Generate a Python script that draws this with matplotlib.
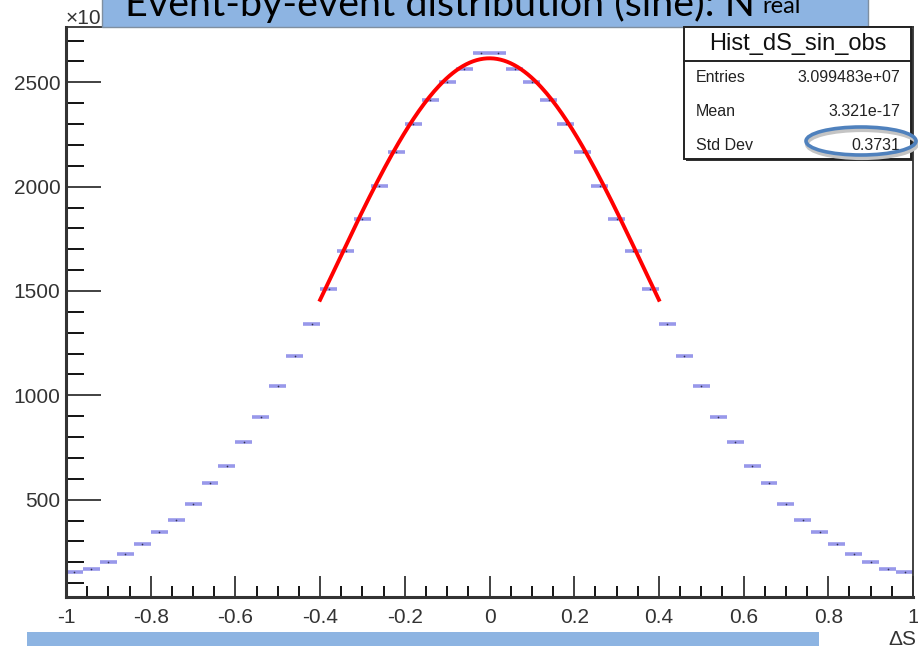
import matplotlib
matplotlib.use('Agg')
import matplotlib.pyplot as plt
import numpy as np
from matplotlib.patches import Rectangle, Ellipse
from matplotlib.ticker import MultipleLocator

plt.rcParams['axes.unicode_minus'] = False

# histogram Hist_dS_sin_obs, 50 bins on [-1, 1], contents in units of 10^3
bin_edges = np.linspace(-1.0, 1.0, 51)
counts = [154, 168, 203, 238, 288, 344, 401, 479, 579, 663,
          775, 897, 1045, 1187, 1343, 1508, 1690, 1845, 2002, 2165,
          2299, 2414, 2503, 2562, 2639, 2639, 2562, 2503, 2414, 2299,
          2165, 2002, 1845, 1690, 1508, 1343, 1187, 1045, 897, 775,
          663, 579, 479, 401, 344, 288, 238, 203, 168, 154]

# gaussian fit drawn over [-0.4, 0.4]
fit_const = 2615
fit_mean = 0.0
fit_sigma = 0.37
fit_range = (-0.4, 0.4)

stat_names = ['Entries', 'Mean', 'Std Dev']
stat_values = ['3.099483e+07', '3.321e-17', '0.3731']

W, H = 918, 646
BOX_BLUE = '#8DB4E2'
MARK_BLUE = '#9898ea'

fig = plt.figure(figsize=(W / 100, H / 100), dpi=100)
fig.patch.set_facecolor('white')

# frame in pixel terms
L, R, T, B = 66, 913, 27, 596.7
ax = fig.add_axes([L / W, 1 - B / H, (R - L) / W, (B - T) / H])

centers = 0.5 * (bin_edges[:-1] + bin_edges[1:])
half_w = 0.5 * (bin_edges[1] - bin_edges[0])
ax.errorbar(centers, counts, xerr=half_w, fmt='o', ms=1.2, mfc='#33334d',
            mec='none', ecolor=MARK_BLUE, elinewidth=2.6, capsize=0, zorder=2)

xf = np.linspace(fit_range[0], fit_range[1], 200)
yf = fit_const * np.exp(-0.5 * ((xf - fit_mean) / fit_sigma) ** 2)
ax.plot(xf, yf, color='red', lw=2.8, zorder=3)

ax.set_xlim(-1, 1)
ax.set_ylim(35, 2765)
ax.xaxis.set_major_locator(MultipleLocator(0.2))
ax.xaxis.set_minor_locator(MultipleLocator(0.05))
ax.yaxis.set_major_locator(MultipleLocator(500))
ax.yaxis.set_minor_locator(MultipleLocator(100))
ax.xaxis.set_major_formatter(matplotlib.ticker.FuncFormatter(
    lambda v, p: '0' if abs(v) < 1e-9 else ('%g' % v)))
ax.tick_params(axis='x', which='major', direction='in', length=15, width=1.3,
               labelsize=15, pad=8, colors='#333333')
ax.tick_params(axis='x', which='minor', direction='in', length=8, width=1.3)
ax.tick_params(axis='y', which='major', direction='in', length=25, width=1.3,
               labelsize=15, pad=4, colors='#333333')
ax.tick_params(axis='y', which='minor', direction='in', length=13, width=1.3)
for lab in ax.get_xticklabels() + ax.get_yticklabels():
    lab.set_fontfamily('Liberation Sans')
for s in ax.spines.values():
    s.set_linewidth(1.3)
    s.set_color('#333333')
ax.spines['left'].set_linewidth(2.2)
ax.spines['bottom'].set_linewidth(2.2)

# overlay in pixel coordinates
ov = fig.add_axes([0, 0, 1, 1], zorder=5)
ov.set_xlim(0, W)
ov.set_ylim(H, 0)
ov.axis('off')
ov.patch.set_alpha(0)

ov.text(66, 24, '×10', fontsize=15, color='#333333', fontfamily='Liberation Sans',
        ha='left', va='baseline', zorder=1)

# top caption band
ov.add_patch(Rectangle((102, -2), 766, 29, facecolor=BOX_BLUE, edgecolor='#7f8fa0',
                       lw=1.0, zorder=2))
title = ov.text(125, 16, 'Event-by-event distribution (sine): N', fontsize=26,
                color='black', fontfamily='Lato', ha='left', va='baseline', zorder=3)
fig.canvas.draw()
bb = title.get_window_extent()
title.set_fontsize(26 * 628 / bb.width)
ov.text(762, 13, 'real', fontsize=17, color='black', fontfamily='Lato',
        ha='left', va='baseline', zorder=3)

# bottom band
ov.add_patch(Rectangle((27, 632), 792, 20, facecolor=BOX_BLUE, edgecolor='none', zorder=2))
ov.text(916, 630, 'ΔS', fontsize=15, color='#333333', fontfamily='Liberation Sans',
        ha='right', va='top', zorder=3)

# stats box
bx0, by0, bx1, by1 = 684, 27, 911, 159
ov.add_patch(Rectangle((bx0 + 2, by0 + 2), bx1 - bx0, by1 - by0, facecolor='#333333',
                       edgecolor='none', zorder=3))
ov.add_patch(Rectangle((bx0, by0), bx1 - bx0, by1 - by0, facecolor='white',
                       edgecolor='#222222', lw=1.4, zorder=4))
ov.plot([bx0, bx1], [61, 61], color='#222222', lw=1.4, zorder=5)
ov.text((bx0 + bx1) / 2, 44, 'Hist_dS_sin_obs', fontsize=17, color='#111111',
        fontfamily='Liberation Sans', ha='center', va='center', zorder=5)
rows_y = [77, 111, 145]
for name, val, yy in zip(stat_names, stat_values, rows_y):
    ov.text(696, yy, name, fontsize=11.5, color='#222222', fontfamily='Liberation Sans',
            ha='left', va='center', zorder=5)
    ov.text(900, yy, val, fontsize=11.5, color='#222222', fontfamily='Liberation Sans',
            ha='right', va='center', zorder=5)

# highlight ellipse around std dev
ov.add_patch(Ellipse((862, 144), 110, 28, facecolor='none', edgecolor='#c4c4c4',
                     lw=3, zorder=5))
ov.add_patch(Ellipse((861, 141), 110, 28, facecolor='none', edgecolor='#4F81BD',
                     lw=2.6, zorder=6))

fig.savefig('out.png', dpi=100, facecolor='white')
